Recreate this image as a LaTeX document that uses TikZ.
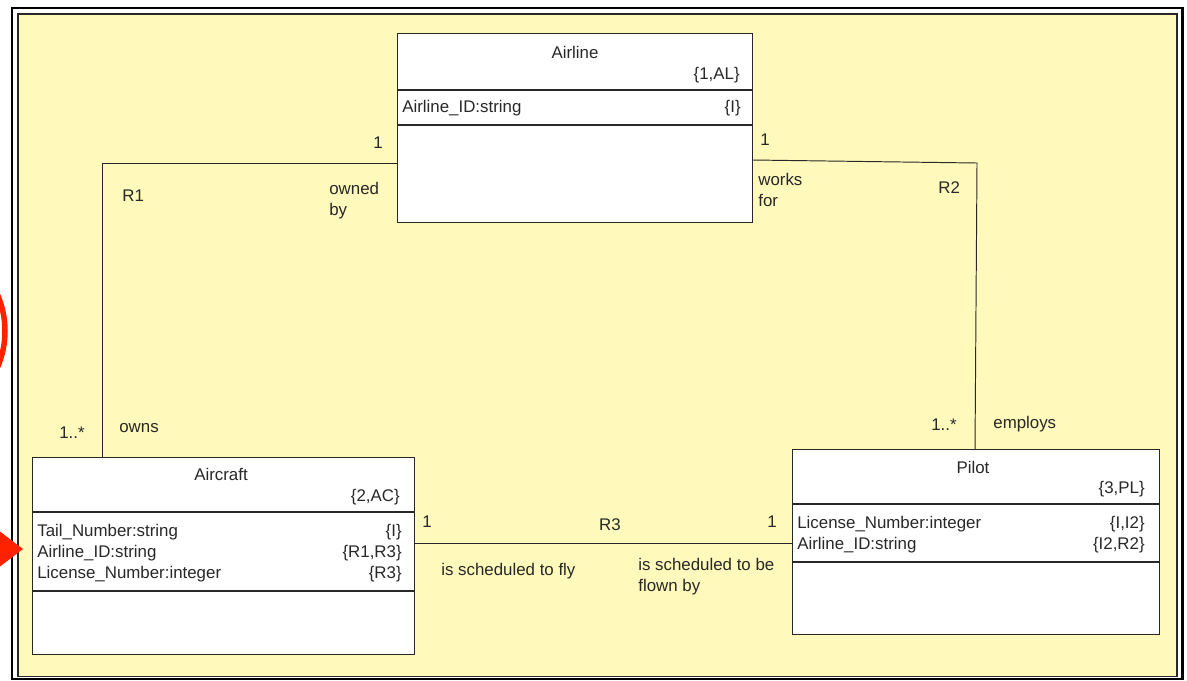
\documentclass[tikz,border=0pt]{standalone}
\usepackage{fontspec}
\setmainfont{Liberation Sans}
\usepackage{tikz}
\usetikzlibrary{positioning}
\definecolor{paper}{RGB}{255,250,187}
\definecolor{marker}{RGB}{255,34,0}
\definecolor{ink}{RGB}{40,40,40}

\begin{document}
\begin{tikzpicture}[x=0.2mm,y=-0.2mm,
  classbox/.style={draw=ink,fill=white,line width=0.6pt,anchor=north west},
  assoc/.style={draw=ink,line width=0.55pt},
  lbl/.style={anchor=west,align=left,text=ink},
  tag/.style={anchor=east,align=right,text=ink}]
\tikzstyle{every node}+=[inner sep=0pt,font=\fontsize{9.6}{11.9}\selectfont]
\useasboundingbox (0,0) rectangle (1187,680);
\clip (0,0) rectangle (1187,680);
% double frame
\draw [black,line width=0.47mm] (12.2,8.3) rectangle (1182.5,679);
\draw [ink,fill=paper,line width=0.34mm] (17.7,14.2) rectangle (1177,676.5);
% classes
\node [classbox,minimum width=71mm,minimum height=37.8mm] (airline) at (397,33) {};
\node [classbox,minimum width=76.4mm,minimum height=39.4mm] (aircraft) at (32,457) {};
\node [classbox,minimum width=73.4mm,minimum height=37mm] (pilot) at (792,449) {};
\coordinate (al1) at (0,90);
\coordinate (al2) at (0,125);
\coordinate (ac1) at (0,512);
\coordinate (ac2) at (0,591);
\coordinate (pl1) at (0,504);
\coordinate (pl2) at (0,562);
\draw [ink,line width=0.6pt] (airline.west |- al1) -- (airline.east |- al1);
\draw [ink,line width=0.6pt] (airline.west |- al2) -- (airline.east |- al2);
\draw [ink,line width=0.6pt] (aircraft.west |- ac1) -- (aircraft.east |- ac1);
\draw [ink,line width=0.6pt] (aircraft.west |- ac2) -- (aircraft.east |- ac2);
\draw [ink,line width=0.6pt] (pilot.west |- pl1) -- (pilot.east |- pl1);
\draw [ink,line width=0.6pt] (pilot.west |- pl2) -- (pilot.east |- pl2);
% Airline
\node [text=ink] (airline-name) at (575,52) {Airline};
\node [tag] (airline-key) at (740,75) {\{1,AL\}};
\node [lbl] (airline-attr) at (402,108) {Airline\_ID:string};
\node [tag] (airline-ids) at (741,108) {\{I\}};
% Aircraft
\node [text=ink] (aircraft-name) at (221,474) {Aircraft};
\node [tag] (aircraft-key) at (400,497) {\{2,AC\}};
\node [lbl] (aircraft-attr) at (37,553) {Tail\_Number:string\\Airline\_ID:string\\License\_Number:integer};
\node [tag] (aircraft-ids) at (402,553) {\{I\}\\\{R1,R3\}\\\{R3\}};
% Pilot
\node [text=ink] (pilot-name) at (973,467) {Pilot};
\node [tag] (pilot-key) at (1145,489) {\{3,PL\}};
\node [lbl] (pilot-attr) at (797,535) {License\_Number:integer\\Airline\_ID:string};
\node [tag] (pilot-ids) at (1145,535) {\{I,I2\}\\\{I2,R2\}};
% R1
\coordinate (r1) at (102,163);
\draw [assoc] (airline.west |- r1) -- (r1) -- (aircraft.north -| r1);
\node [text=ink] (r1-one) at (378,143) {1};
\node [lbl] (r1-name) at (122,196) {R1};
\node [lbl] (r1-owned) at (329,201) {owned\\by};
\node [tag] (r1-many) at (85,433) {1..*};
\node [lbl] (r1-owns) at (119,428) {owns};
% R2
\coordinate (r2a) at (0,160);
\coordinate (r2) at (977,163);
\coordinate (r2b) at (975,0);
\draw [assoc] (airline.east |- r2a) -- (r2) -- (pilot.north -| r2b);
\node [text=ink] (r2-one) at (765,140) {1};
\node [lbl] (r2-works) at (758,190) {works\\for};
\node [lbl] (r2-name) at (938,188) {R2};
\node [tag] (r2-many) at (957,425) {1..*};
\node [lbl] (r2-employs) at (993,424) {employs};
% R3
\coordinate (r3) at (600,543);
\draw [assoc] (aircraft.east |- r3) -- (pilot.west |- r3);
\node [text=ink] (r3-left) at (427,522) {1};
\node [text=ink] (r3-name) at (610,525) {R3};
\node [text=ink] (r3-right) at (772,522) {1};
\node [lbl] (r3-fly) at (441,571) {is scheduled to fly};
\node [lbl] (r3-flown) at (638,576.5) {is scheduled to be\\flown by};
% red marks at the left edge
\draw [marker,line width=1.1mm] (-86,331) circle (91);
\fill [marker] (23,549) -- (-2,530) -- (-2,568) -- cycle;
\end{tikzpicture}
\end{document}
